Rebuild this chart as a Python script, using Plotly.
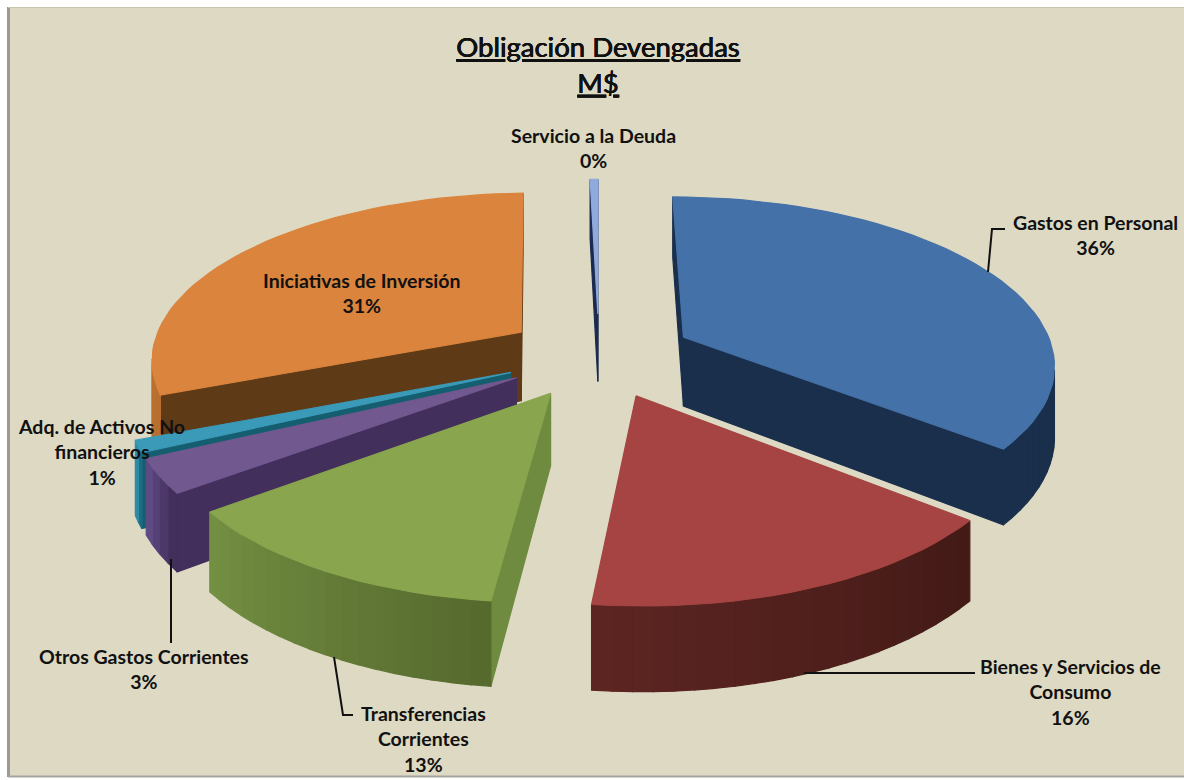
import numpy as np
import plotly.graph_objects as go

# values, going clockwise from the top of the pie
names = ['Gastos en Personal', 'Bienes y Servicios de Consumo', 'Transferencias Corrientes',
         'Otros Gastos Corrientes', 'Adq. de Activos No financieros', 'Iniciativas de Inversión',
         'Servicio a la Deuda']
shares = [35.9, 15.9, 12.8, 3.2, 1.1, 30.7, 0.4]

top_colors = ['#4471a8', '#a54442', '#89a54e', '#71588f', '#3a9ab8', '#db843d', '#8faadc']
face_colors = ['#1a2f4b', '#4a1c18', '#6f8b3f', '#432f5c', '#155e70', '#5f3a17', '#1c2a50']
wall_start = ['#1a2f4b', '#431a16', '#566a2e', '#432f5c', '#1d6d82', '#b86f30', '#1c2a50']
wall_end = ['#1a2f4b', '#5c2522', '#738f42', '#604a84', '#2f8ba5', '#c87a36', '#1c2a50']

# projection of the exploded 3-D pie
CX, CY = 599, 355
RADIUS = 371
EXPLODE = 95
TILT = 0.447
DEPTH = 2510
HEIGHT = 70


def project(x, y, z=0):
    w = DEPTH / (DEPTH + y)
    return CX + x * w, CY - (y * TILT + z) * w


def shoelace(xs, ys):
    return sum(xs[i] * ys[(i + 1) % len(xs)] - xs[(i + 1) % len(xs)] * ys[i] for i in range(len(xs)))


def mix(c1, c2, t):
    a = [int(c1[i:i + 2], 16) for i in (1, 3, 5)]
    b = [int(c2[i:i + 2], 16) for i in (1, 3, 5)]
    return 'rgb(%d,%d,%d)' % tuple(round(a[i] + (b[i] - a[i]) * t) for i in range(3))


def add_poly(fig, xs, ys, color):
    fig.add_trace(go.Scatter(
        x=list(xs) + [xs[0]], y=list(ys) + [ys[0]],
        mode='lines', fill='toself', fillcolor=color,
        line=dict(color=color, width=1.2),
        hoverinfo='skip', showlegend=False,
    ))


def add_side(fig, p1, p2, color):
    # quad hanging below the edge p1 -> p2, skipped when it faces away from the viewer
    xs = []
    ys = []
    for (px, py, pz) in [(*p1, 0), (*p2, 0), (*p2, -HEIGHT), (*p1, -HEIGHT)]:
        sx, sy = project(px, py, pz)
        xs.append(sx)
        ys.append(sy)
    if shoelace(xs, ys) < 0:
        add_poly(fig, xs, ys, color)


fig = go.Figure()

fractions = np.array(shares) / sum(shares)
edges = np.concatenate([[0], np.cumsum(fractions)]) * 2 * np.pi
mids = (edges[:-1] + edges[1:]) / 2

# paint from the back of the pie to the front
order = sorted(range(len(shares)), key=lambda k: -np.cos(mids[k]))

for k in order:
    ax = EXPLODE * np.sin(mids[k])
    ay = EXPLODE * np.cos(mids[k])
    n = max(2, int(np.degrees(edges[k + 1] - edges[k]) / 2.5))
    angles = np.linspace(edges[k], edges[k + 1], n + 1)
    rim = [(ax + RADIUS * np.sin(a), ay + RADIUS * np.cos(a)) for a in angles]

    add_side(fig, (ax, ay), rim[0], face_colors[k])
    add_side(fig, rim[-1], (ax, ay), face_colors[k])
    for i in range(n):
        add_side(fig, rim[i], rim[i + 1], mix(wall_start[k], wall_end[k], i / max(n - 1, 1)))

    tops = [project(ax, ay)] + [project(*p) for p in rim]
    add_poly(fig, [p[0] for p in tops], [p[1] for p in tops], top_colors[k])

pct = [f'{round(s)}%' for s in shares]
label_font = dict(family='Lato', size=19.5, color='#111111')


def label(text, x, y):
    fig.add_annotation(x=x, y=y, text=text, showarrow=False, xanchor='center', yanchor='middle',
                       font=label_font, align='center')


label(f'<b>{names[6]}</b><br><b>{pct[6]}</b>', 593, 148)
label(f'<b>{names[0]}</b><br><b>{pct[0]}</b>', 1095, 235)
label(f'<b>{names[5]}</b><br><b>{pct[5]}</b>', 362, 293)
label(f'<b>Adq. de Activos No</b><br><b>financieros</b><br><b>{pct[4]}</b>', 101, 452)
label(f'<b>{names[3]}</b><br><b>{pct[3]}</b>', 144, 669)
label(f'<b>Bienes y Servicios de</b><br><b>Consumo</b><br><b>{pct[1]}</b>', 1070, 692)
label(f'<b>Transferencias</b><br><b>Corrientes</b><br><b>{pct[2]}</b>', 423, 739)

fig.add_annotation(x=597, y=64, text='<u>Obligación Devengadas</u><br><u>M$</u>', showarrow=False,
                   xanchor='center', yanchor='middle', align='center',
                   font=dict(family='Lato', size=27.5, color='#111111', shadow='0.5px 0 0 #111111'))

leader = dict(color='#111111', width=2)
shapes = [
    dict(type='rect', x0=8, x1=1184, y0=7, y1=777, fillcolor='#ddd9c3', line=dict(width=0), layer='below'),
    dict(type='line', x0=8.5, x1=8.5, y0=7, y1=777, line=dict(color='#999999', width=3), layer='below'),
    dict(type='line', x0=8, x1=1184, y0=776.5, y1=776.5, line=dict(color='#a6a6a0', width=2), layer='below'),
    dict(type='line', x0=8, x1=1184, y0=7.5, y1=7.5, line=dict(color='#c8c4ae', width=1), layer='below'),
    dict(type='path', path='M 988 272 L 992 229 L 1005 229', line=leader),
    dict(type='path', path='M 804 673 L 975 673', line=leader),
    dict(type='path', path='M 334 657 L 343 715 L 353 715', line=leader),
    dict(type='path', path='M 171 559 L 171 643', line=leader),
]

fig.update_layout(
    width=1184, height=780,
    margin=dict(l=0, r=0, t=0, b=0),
    paper_bgcolor='white', plot_bgcolor='white',
    xaxis=dict(range=[0, 1184], visible=False, fixedrange=True),
    yaxis=dict(range=[780, 0], visible=False, fixedrange=True),
    shapes=shapes,
    showlegend=False,
)

fig.write_html("out.html", config=dict(displayModeBar=False),
               post_script="document.body.style.margin='0';document.body.style.overflow='hidden';")
